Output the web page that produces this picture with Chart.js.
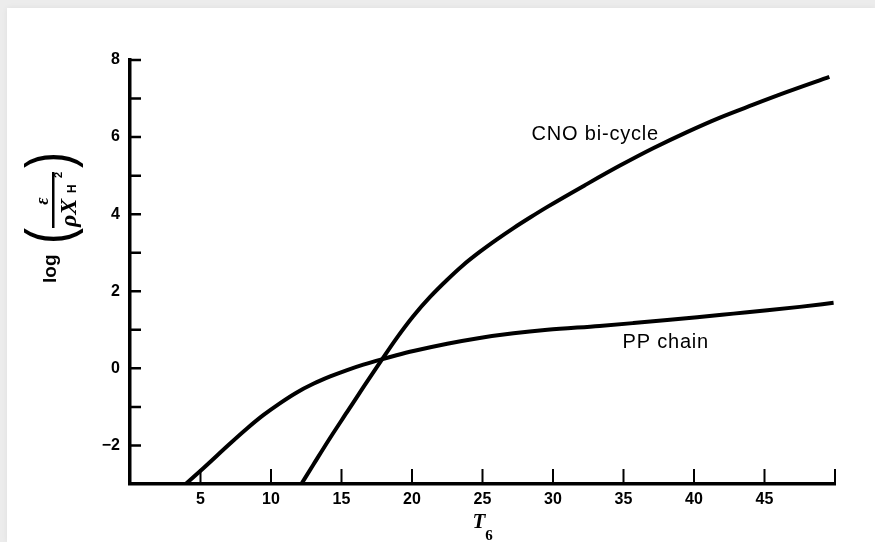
<!DOCTYPE html>
<html>
<head>
<meta charset="utf-8">
<script src="https://cdn.jsdelivr.net/npm/chart.js@4.4.0/dist/chart.umd.min.js"></script>
<style>
  html, body { margin: 0; padding: 0; }
  body { width: 875px; height: 542px; background: #ececec; position: relative; overflow: hidden; }
  #paper { position: absolute; left: 7px; top: 8px; right: 0; bottom: 0; background: #fff; box-shadow: 0 0 6px rgba(0,0,0,0.06); }
  #chart { position: absolute; left: 0; top: 0; }
</style>
</head>
<body>
<div id="paper"></div>
<canvas id="chart" width="875" height="542"></canvas>
<script>
// T6 (temperature in 10^6 K) vs log(eps / rho X_H^2)
const ppT = [3.95, 5.2, 7.1, 8.3, 9.45, 10.65, 11.8, 13.0, 14.2, 15.4, 16.55, 17.85, 18.9, 20.1, 22.5, 24.8, 27.2, 29.6, 33.3, 35.7, 38.1, 40.4, 42.8, 45.2, 47.5, 49.9];
const ppLog = [-3.0, -2.59, -1.95, -1.56, -1.215, -0.9, -0.63, -0.4, -0.21, -0.045, 0.095, 0.235, 0.34, 0.45, 0.64, 0.79, 0.91, 1.0, 1.1, 1.175, 1.255, 1.335, 1.42, 1.505, 1.595, 1.70];
const cnoT = [12.15, 13.0, 14.2, 15.4, 16.6, 17.85, 18.9, 20.1, 21.3, 22.5, 23.6, 24.8, 26.0, 27.2, 28.4, 29.6, 32.4, 34.75, 37.1, 39.5, 41.8, 44.2, 46.6, 49.6];
const cnoLog = [-3.0, -2.5, -1.8, -1.13, -0.46, 0.22, 0.78, 1.36, 1.86, 2.30, 2.67, 3.02, 3.34, 3.64, 3.92, 4.19, 4.78, 5.26, 5.71, 6.13, 6.50, 6.84, 7.17, 7.56];

const xTickLabels = [5, 10, 15, 20, 25, 30, 35, 40, 45];
const yTickLabels = [-2, 0, 2, 4, 6, 8];

const curveNames = ['CNO bi-cycle', 'PP chain'];
const curveNameT = [33.0, 38.0];
const curveNameLog = [6.07, 0.66];

function toPoints(xs, ys) {
    return xs.map((x, i) => ({ x: x, y: ys[i] }));
}

const tickFont = { family: '"Liberation Sans", Arial, sans-serif', size: 16, weight: 'bold' };

// tick marks point into the plot, like the printed figure
const innerTicks = {
    id: 'innerTicks',
    afterDraw(chart) {
        const { ctx, chartArea, scales } = chart;
        const x = scales.x, y = scales.y;
        ctx.save();
        ctx.strokeStyle = '#000';
        ctx.lineWidth = 2.5;
        ctx.beginPath();
        y.ticks.forEach(t => {
            if (t.value === y.min) return;
            const py = y.getPixelForValue(t.value);
            ctx.moveTo(chartArea.left, py);
            ctx.lineTo(chartArea.left + 11, py);
        });
        ctx.stroke();
        ctx.lineWidth = 2;
        ctx.beginPath();
        x.ticks.forEach(t => {
            if (t.value === x.min) return;
            const px = x.getPixelForValue(t.value);
            ctx.moveTo(px, chartArea.bottom);
            ctx.lineTo(px, chartArea.bottom - 15);
        });
        ctx.stroke();
        ctx.restore();
    }
};

const curveLabels = {
    id: 'curveLabels',
    afterDraw(chart) {
        const { ctx, scales } = chart;
        ctx.save();
        ctx.fillStyle = '#000';
        ctx.font = '20px "Liberation Sans", Arial, sans-serif';
        ctx.letterSpacing = '0.8px';
        ctx.textAlign = 'center';
        ctx.textBaseline = 'middle';
        curveNames.forEach((name, i) => {
            ctx.fillText(name, scales.x.getPixelForValue(curveNameT[i]), scales.y.getPixelForValue(curveNameLog[i]));
        });
        ctx.restore();
    }
};

function paren(ctx, ch, u, v) {
    ctx.save();
    ctx.translate(u, v);
    ctx.scale(1, 1.3);
    ctx.font = '48px "Liberation Sans", Arial, sans-serif';
    ctx.textAlign = 'center';
    ctx.textBaseline = 'middle';
    ctx.fillText(ch, 0, 0);
    ctx.restore();
}

// axis titles: log(eps / rho X_H^2) rotated, and T6 below
const axisTitles = {
    id: 'axisTitles',
    afterDraw(chart) {
        const { ctx, scales } = chart;
        ctx.save();
        ctx.fillStyle = '#000';

        ctx.translate(58, 218);
        ctx.rotate(-Math.PI / 2);
        ctx.textAlign = 'left';
        ctx.textBaseline = 'alphabetic';
        ctx.font = 'bold 19px "Liberation Sans", Arial, sans-serif';
        ctx.fillText('log', -65, -2);

        paren(ctx, '(', -18, -5);
        paren(ctx, ')', 58, -5);

        ctx.fillRect(-10, -6, 56, 2.5);

        ctx.textAlign = 'center';
        ctx.font = 'bold italic 18px "Liberation Serif", serif';
        ctx.fillText('\u03b5', 17, -10);

        ctx.textAlign = 'left';
        ctx.font = 'bold italic 24px "Liberation Serif", serif';
        ctx.fillText('\u03c1X', -9, 18);
        ctx.font = 'bold 12px "Liberation Sans", Arial, sans-serif';
        ctx.fillText('H', 25, 18);
        ctx.font = 'bold 11px "Liberation Sans", Arial, sans-serif';
        ctx.fillText('2', 40, 4);
        ctx.restore();

        ctx.save();
        ctx.fillStyle = '#000';
        const cx = scales.x.getPixelForValue(25);
        ctx.textAlign = 'left';
        ctx.textBaseline = 'alphabetic';
        ctx.font = 'bold italic 21px "Liberation Serif", serif';
        ctx.fillText('T', cx - 10, 528);
        const w = ctx.measureText('T').width;
        ctx.font = 'bold 15px "Liberation Serif", serif';
        ctx.fillText('6', cx - 10 + w, 540);
        ctx.restore();
    }
};

document.addEventListener('DOMContentLoaded', function () {
    const ctx = document.getElementById('chart').getContext('2d');
    new Chart(ctx, {
        type: 'line',
        data: {
            datasets: [{
                label: 'CNO bi-cycle',
                data: toPoints(cnoT, cnoLog),
                borderColor: '#000',
                borderWidth: 4,
                pointRadius: 0,
                cubicInterpolationMode: 'monotone',
                fill: false
            }, {
                label: 'PP chain',
                data: toPoints(ppT, ppLog),
                borderColor: '#000',
                borderWidth: 4,
                pointRadius: 0,
                cubicInterpolationMode: 'monotone',
                fill: false
            }]
        },
        options: {
            responsive: false,
            animation: false,
            layout: {
                padding: { top: 60, right: 40, left: 0, bottom: 0 }
            },
            scales: {
                x: {
                    type: 'linear',
                    min: 0,
                    max: 50,
                    grid: { display: false, drawTicks: false },
                    border: { display: true, color: '#000', width: 3.5 },
                    ticks: {
                        stepSize: 5,
                        autoSkip: false,
                        maxRotation: 0,
                        padding: 6,
                        color: '#000',
                        font: tickFont,
                        callback: v => xTickLabels.includes(v) ? String(v) : ''
                    },
                    afterFit: scale => { scale.height = 58; }
                },
                y: {
                    type: 'linear',
                    min: -3,
                    max: 8,
                    grid: { display: false, drawTicks: false },
                    border: { display: true, color: '#000', width: 3.5 },
                    ticks: {
                        stepSize: 1,
                        autoSkip: false,
                        padding: 10,
                        color: '#000',
                        font: tickFont,
                        callback: v => yTickLabels.includes(v) ? (v < 0 ? '\u2212' + Math.abs(v) : String(v)) : ''
                    },
                    afterFit: scale => { scale.width = 130; }
                }
            },
            plugins: {
                legend: { display: false },
                tooltip: { enabled: false }
            }
        },
        plugins: [innerTicks, curveLabels, axisTitles]
    });
});
</script>
</body>
</html>
